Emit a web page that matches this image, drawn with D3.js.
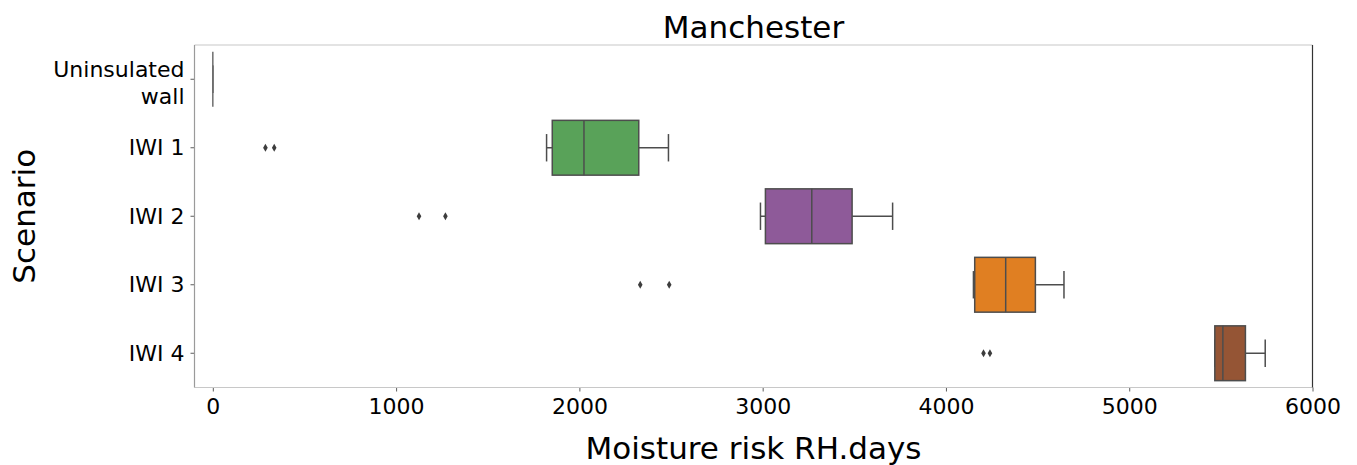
<!DOCTYPE html>
<html>
<head>
<meta charset="utf-8">
<script src="https://cdn.jsdelivr.net/npm/d3@7"></script>
<style>
  body { margin: 0; background: #fff; }
  svg text { font-family: "DejaVu Sans", sans-serif; fill: #000; }
</style>
</head>
<body>
<div id="chart"></div>
<script>
// scenarios and their box statistics (RH.days)
const scenarios = ['Uninsulated wall', 'IWI 1', 'IWI 2', 'IWI 3', 'IWI 4'];
const whiskerLow = [0, 1821, 2988, 4150, 5467];
const q1 = [0, 1852, 3015, 4157, 5467];
const median = [0, 2025, 3268, 4326, 5511];
const q3 = [0, 2324, 3488, 4488, 5634];
const whiskerHigh = [0, 2486, 3709, 4644, 5742];
const outliers = [[], [287, 335], [1125, 1269], [2332, 2490], [4205, 4240]];
const colors = ['#8c8c8c', '#59a259', '#8e5a99', '#e07f22', '#955535'];
const xTicks = [0, 1000, 2000, 3000, 4000, 5000, 6000];

const W = 1357, H = 465;
const margin = { top: 45, right: 44.5, bottom: 77.5, left: 194.5 };
const width = W - margin.left - margin.right;
const height = H - margin.top - margin.bottom;

const svg = d3.select('#chart').append('svg')
  .attr('width', W)
  .attr('height', H);

const chart = svg.append('g')
  .attr('transform', `translate(${margin.left}, ${margin.top})`);

const xScale = d3.scaleLinear().domain([-100, 6000]).range([0, width]);
const yScale = d3.scaleBand().domain(scenarios).range([0, height]);
const boxH = yScale.bandwidth() * 0.8;
const lineCol = '#4d4d4d';

// axes
const xAxis = chart.append('g')
  .attr('class', 'axis axis-x')
  .attr('transform', `translate(0, ${height})`)
  .call(d3.axisBottom(xScale).tickValues(xTicks).tickSize(4).tickPadding(6).tickFormat(d3.format('d')));
xAxis.select('.domain').remove();
xAxis.selectAll('line').attr('stroke', '#333').attr('stroke-width', 0.8);
xAxis.selectAll('text').style('font-size', '22px').attr('dy', '0.75em');

const yAxis = chart.append('g')
  .attr('class', 'axis axis-y')
  .call(d3.axisLeft(yScale).tickSize(4).tickPadding(6).tickFormat(''));
yAxis.select('.domain').remove();
yAxis.selectAll('line').attr('stroke', '#333').attr('stroke-width', 0.8);

// y tick labels, wrapping the long one
yAxis.selectAll('.tick').each(function(d) {
  const words = d === 'Uninsulated wall' ? ['Uninsulated', 'wall'] : [d];
  const t = d3.select(this).append('text')
    .attr('x', -10)
    .attr('text-anchor', 'end')
    .style('font-size', '22px');
  words.forEach((w, i) => {
    t.append('tspan')
      .attr('x', -10)
      .attr('dy', i === 0 ? (words.length > 1 ? '-0.1em' : '0.35em') : '1.21em')
      .text(w);
  });
});

// frame
chart.append('line').attr('x1', 0).attr('x2', width).attr('y1', 0).attr('y2', 0).attr('stroke', '#c8c8c8').attr('stroke-width', 1.2);
chart.append('line').attr('x1', 0).attr('x2', width).attr('y1', height).attr('y2', height).attr('stroke', '#c8c8c8').attr('stroke-width', 1.2);
chart.append('line').attr('x1', 0).attr('x2', 0).attr('y1', 0).attr('y2', height).attr('stroke', '#9a9a9a').attr('stroke-width', 1.2);
chart.append('line').attr('x1', width).attr('x2', width).attr('y1', 0).attr('y2', height).attr('stroke', '#333').attr('stroke-width', 1.2);

// boxes
const boxes = chart.selectAll('.box')
  .data(scenarios)
  .enter()
  .append('g')
  .attr('class', 'box')
  .attr('transform', d => `translate(0, ${yScale(d) + yScale.bandwidth() / 2})`);

boxes.each(function(d, i) {
  const g = d3.select(this);
  const stroke = i === 0 ? '#6e6e6e' : lineCol;
  // whiskers
  g.append('line')
    .attr('x1', xScale(whiskerLow[i])).attr('x2', xScale(q1[i]))
    .attr('y1', 0).attr('y2', 0)
    .attr('stroke', stroke).attr('stroke-width', 1.5);
  g.append('line')
    .attr('x1', xScale(q3[i])).attr('x2', xScale(whiskerHigh[i]))
    .attr('y1', 0).attr('y2', 0)
    .attr('stroke', stroke).attr('stroke-width', 1.5);
  // caps
  [whiskerLow[i], whiskerHigh[i]].forEach(v => {
    g.append('line')
      .attr('x1', xScale(v)).attr('x2', xScale(v))
      .attr('y1', -boxH / 4).attr('y2', boxH / 4)
      .attr('stroke', stroke).attr('stroke-width', 1.5);
  });
  // box
  g.append('rect')
    .attr('x', xScale(q1[i]))
    .attr('y', -boxH / 2)
    .attr('width', xScale(q3[i]) - xScale(q1[i]))
    .attr('height', boxH)
    .attr('fill', colors[i])
    .attr('stroke', stroke)
    .attr('stroke-width', 1.5);
  // median
  g.append('line')
    .attr('x1', xScale(median[i])).attr('x2', xScale(median[i]))
    .attr('y1', -boxH / 2).attr('y2', boxH / 2)
    .attr('stroke', stroke).attr('stroke-width', 1.5);
  // outliers
  g.selectAll('.flier')
    .data(outliers[i])
    .enter()
    .append('path')
    .attr('class', 'flier')
    .attr('d', 'M0,-4L2.3,0L0,4L-2.3,0Z')
    .attr('transform', v => `translate(${xScale(v)}, 0)`)
    .attr('fill', '#3d3d3d');
});

// labels
svg.append('text')
  .attr('x', margin.left + width / 2)
  .attr('y', 38)
  .attr('text-anchor', 'middle')
  .style('font-size', '31px')
  .text('Manchester');

svg.append('text')
  .attr('x', margin.left + width / 2)
  .attr('y', 459)
  .attr('text-anchor', 'middle')
  .style('font-size', '31px')
  .text('Moisture risk RH.days');

svg.append('text')
  .attr('transform', `translate(35, ${margin.top + height / 2}) rotate(-90)`)
  .attr('text-anchor', 'middle')
  .style('font-size', '31px')
  .text('Scenario');
</script>
</body>
</html>
